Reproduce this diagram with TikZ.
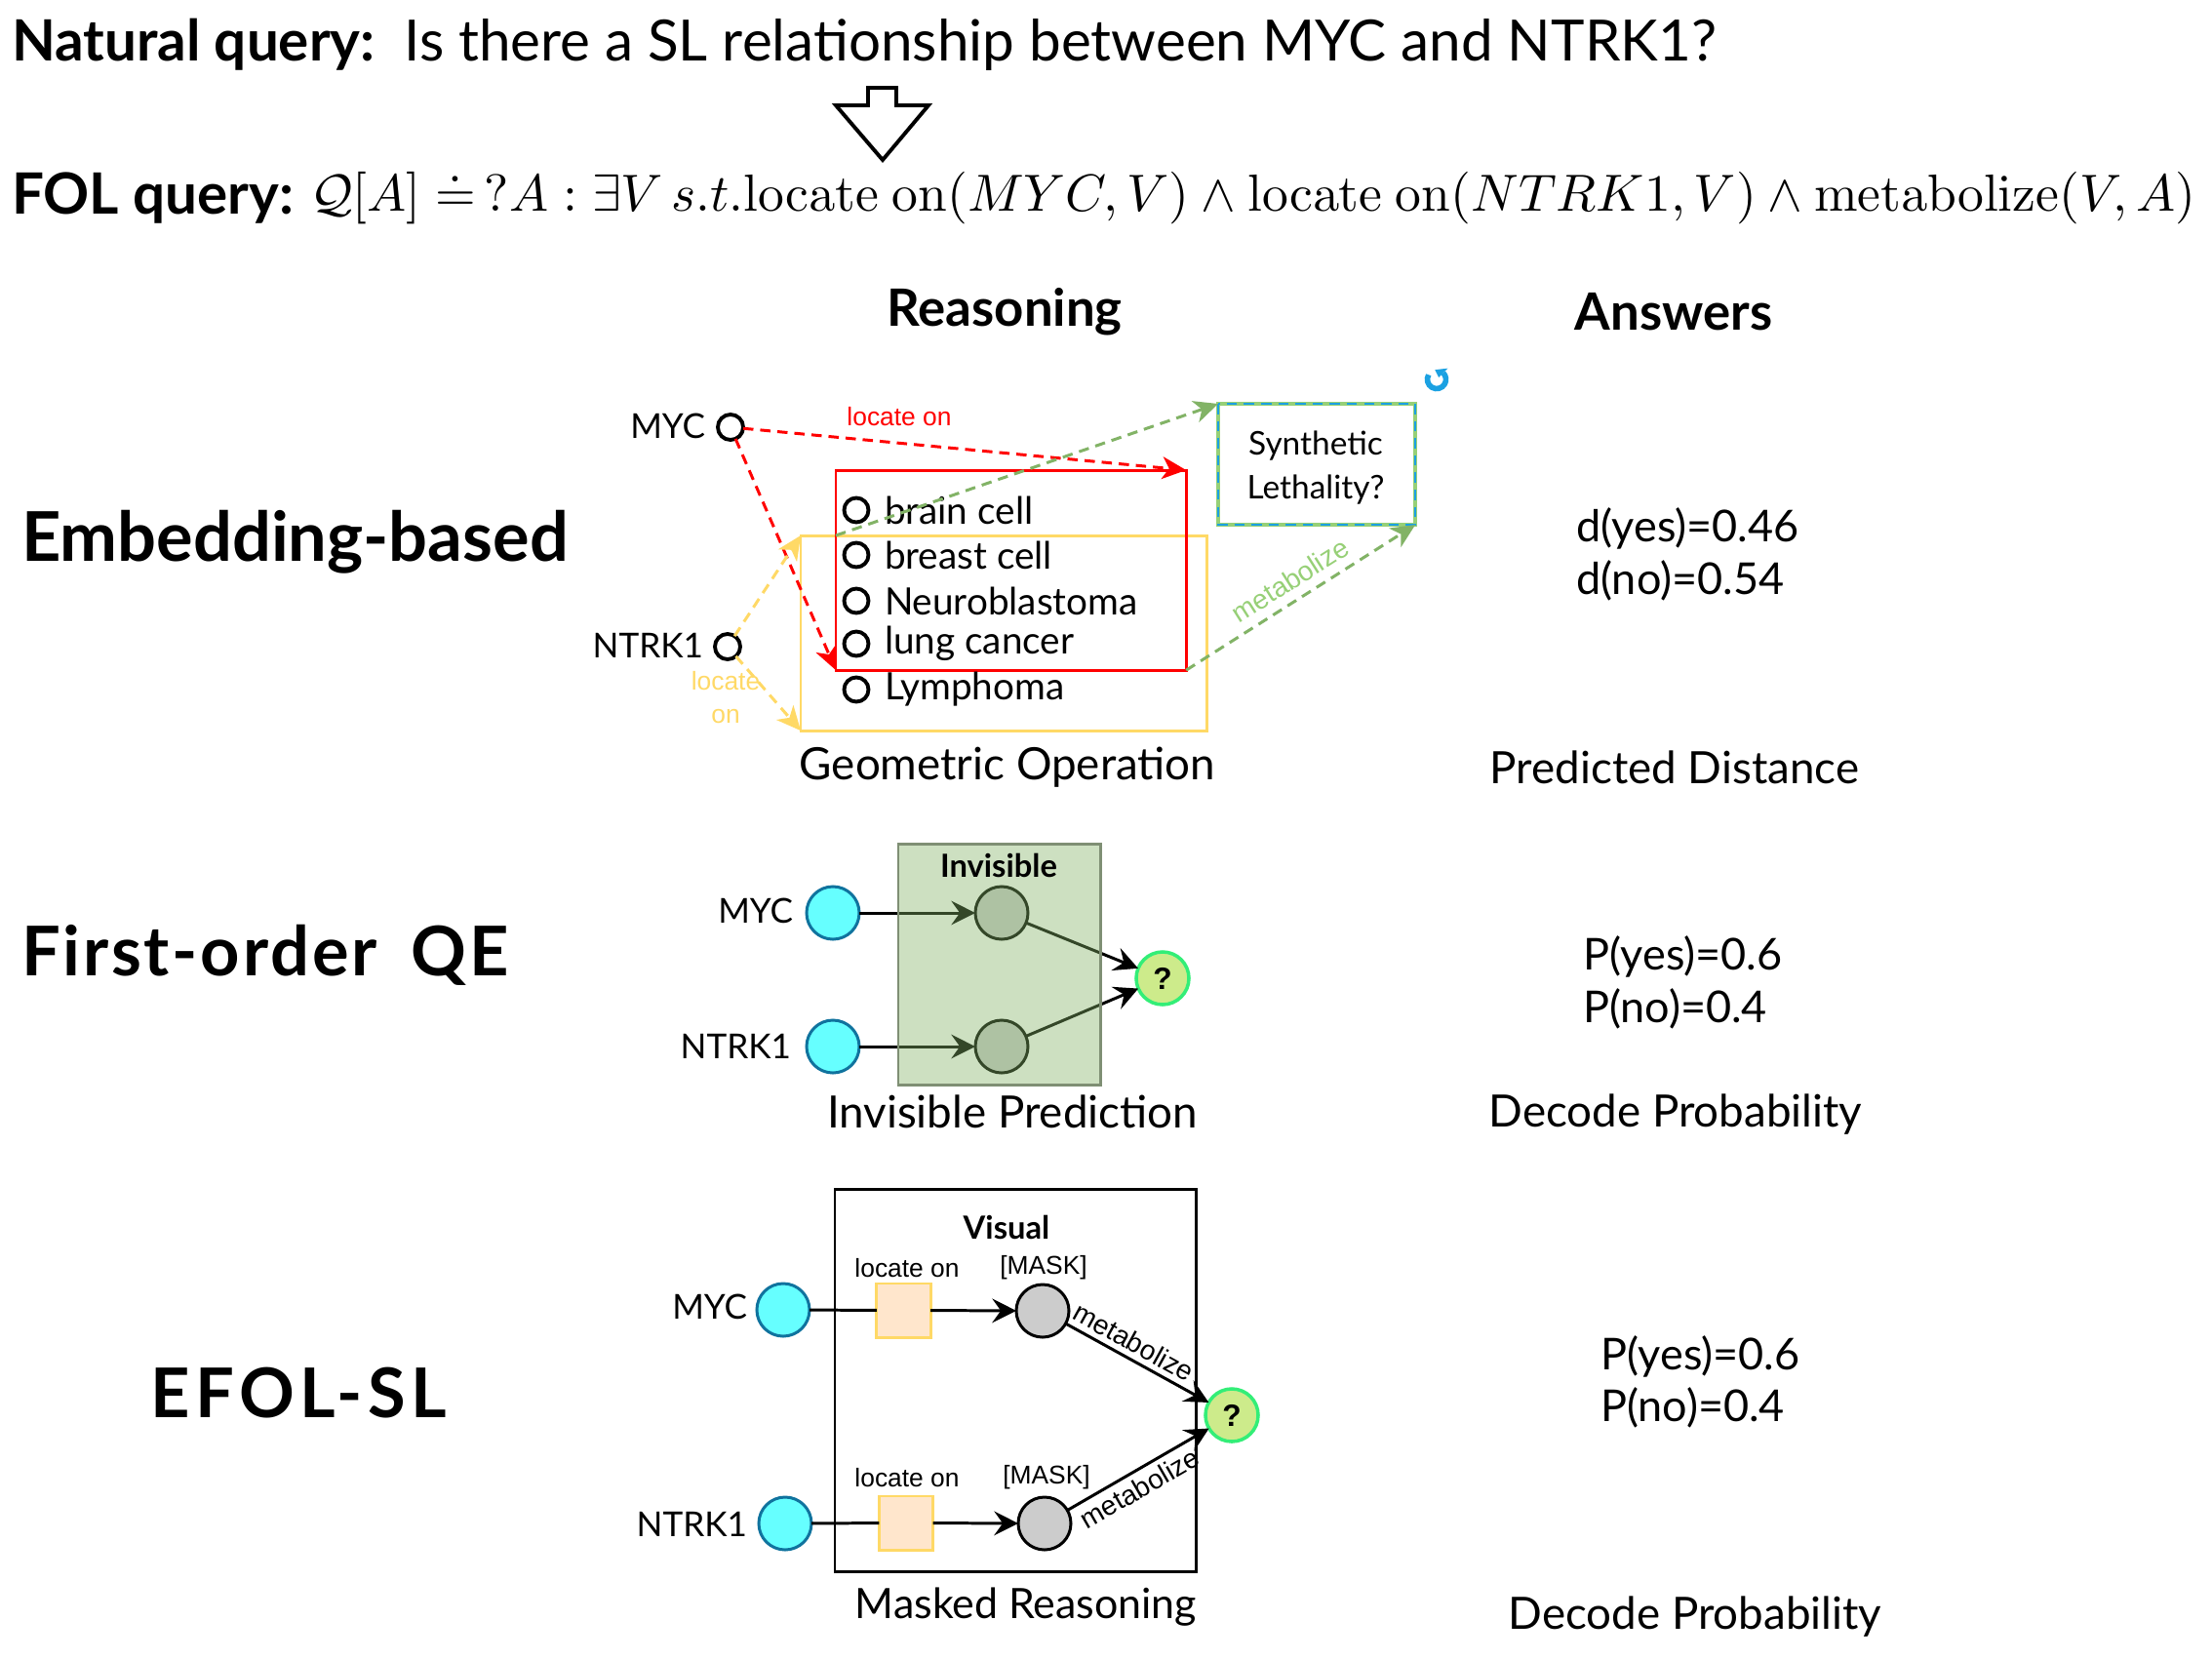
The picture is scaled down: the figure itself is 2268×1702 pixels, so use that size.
\documentclass[tikz,border=0pt]{standalone}
\usepackage[no-math]{fontspec}
\usepackage{amsmath,amssymb,graphicx}
\setmainfont{Lato}
\newfontfamily\arialf{Liberation Sans}
\usetikzlibrary{arrows.meta,calc}
\definecolor{cyanf}{HTML}{66FFFF}
\definecolor{cyand}{HTML}{10739E}
\definecolor{qfill}{HTML}{CDEB8B}
\definecolor{qdraw}{HTML}{33EE77}
\definecolor{gfill}{HTML}{82B366}
\definecolor{gbord}{HTML}{7F8F74}
\definecolor{ydraw}{HTML}{FFD966}
\definecolor{sqfill}{HTML}{FFE6CC}
\definecolor{ltgreen}{HTML}{97D077}
\definecolor{blued}{HTML}{1BA1E2}
\definecolor{grayf}{HTML}{CCCCCC}
\begin{document}
\begin{tikzpicture}[x=0.01cm,y=-0.01cm,
  every node/.style={inner sep=0pt, outer sep=0pt},
  titletxt/.style={font=\fontsize{16.6}{20}\selectfont, anchor=west},
  hdr/.style={font=\bfseries\fontsize{15}{18}\selectfont},
  sect/.style={font=\bfseries\fontsize{20}{24}\selectfont},
  capt/.style={font=\fontsize{13}{15}\selectfont},
  itemtxt/.style={font=\fontsize{11}{13}\selectfont, anchor=west},
  gene/.style={font=\fontsize{10}{12}\selectfont, anchor=east},
  ans/.style={font=\fontsize{12.8}{15}\selectfont, anchor=west},
  arl/.style={font=\arialf\fontsize{7.5}{9.7}\selectfont},
  boxtitle/.style={font=\bfseries\fontsize{9.3}{11}\selectfont},
  ring/.style={circle, draw=black, line width=1.1pt, minimum size=0.26cm},
  cyc/.style={circle, fill=cyanf, draw=cyand, line width=0.85pt, minimum size=0.54cm},
  gry/.style={circle, fill=grayf, draw=black, line width=0.85pt, minimum size=0.54cm},
  qn/.style={circle, fill=qfill, draw=qdraw, line width=1pt, minimum size=0.54cm, font=\arialf\bfseries\fontsize{9}{10}\selectfont},
  sq/.style={fill=sqfill, draw=ydraw, line width=0.85pt, minimum size=0.55cm},
  reddash/.style={draw=red, line width=0.85pt, dash pattern=on 3pt off 2pt, -{Stealth[length=7pt,width=6.5pt,inset=2pt]}},
  gdash/.style={draw=gfill, line width=0.85pt, dash pattern=on 3pt off 2pt, -{Stealth[length=7pt,width=6.5pt,inset=2pt]}},
  ydash/.style={draw=ydraw, line width=0.85pt, dash pattern=on 3pt off 2pt, -{Stealth[length=7pt,width=6.5pt,inset=2pt]}},
  arr/.style={draw=black, line width=0.85pt, -{Stealth[length=7pt,width=7pt,inset=2.5pt]}},
  plain/.style={draw=black, line width=0.85pt}
]
\fill[white] (0,0) rectangle (2268,1702);

% ---------- header ----------
\node[titletxt] (nq) at (12,46) {\textbf{Natural query:}\ \ Is there a SL relationship between MYC and NTRK1?};
\draw[line width=1.1pt, fill=white] (890,90) -- (919,90) -- (919,108) -- (952,108) -- (905,164) -- (857,108) -- (890,108) -- cycle;
\node[titletxt, font=\bfseries\fontsize{16.6}{20}\selectfont] (fl) at (12,203) {FOL query:};
\node[anchor=west] (fm) at (318,203) {\resizebox{19.32cm}{!}{$\mathcal{Q}[A]\doteq\,?A:\exists V\, s.t.\mathrm{locate\ on}(MYC,V)\wedge\mathrm{locate\ on}(NTRK1,V)\wedge\mathrm{metabolize}(V,A)$}};

\node[hdr] (reas) at (1030,320) {Reasoning};
\node[hdr] (answ) at (1716,320) {Answers};

% ---------- left labels ----------
\node[sect, anchor=west] (emb) at (22,556) {Embedding-based};
\node[sect, anchor=west] (foq) at (22,979) {\addfontfeatures{LetterSpace=4}First-order\enspace QE};
\node[sect] (efol) at (306,1428) {\addfontfeatures{LetterSpace=8}EFOL-SL};

% ---------- panel 1 ----------
\node[draw=ydraw, line width=0.85pt, minimum width=4.16cm, minimum height=2.0cm, anchor=north west] (yb) at (821,549) {};
\node[draw=red, line width=0.85pt, minimum width=3.59cm, minimum height=2.05cm, anchor=north west] (rb) at (857,482) {};
\node[gene] (myclab) at (723,437) {MYC};
\node[ring] (m1) at (749,438) {};
\node[gene] (ntlab) at (721,662) {NTRK1};
\node[ring] (n1) at (746,663) {};
\foreach \yy/\tt/\nn in {523/brain cell/a, 569/breast cell/b, 616/Neuroblastoma/c, 660/lung cancer/d, 707/Lymphoma/e}{
  \node[ring, minimum size=0.25cm] (c\nn) at (878,\yy) {};
  \node[itemtxt] (t\nn) at (907,\yy) {\tt};
}
\node[draw=ltgreen, line width=1.1pt, minimum width=2.02cm, minimum height=1.24cm, anchor=north west] (syn) at (1249,414) {};
\draw[blued, line width=0.6pt, dash pattern=on 3pt off 2pt] (syn.north west) rectangle (syn.south east);
\node[font=\fontsize{9.5}{12.8}\selectfont, align=center] (syntxt) at (1349,480) {Synthetic\\Lethality?};
% refresh icon
\coordinate (ico) at (1473,389);
\draw[blued, line width=1.6pt] ($(ico)+(150:0.095cm)$) arc[start angle=150, end angle=405, radius=0.095cm];
\fill[blued] ($(ico)+(45:0.03cm)$) -- ($(ico)+(45:0.16cm)$) -- ($(ico)+(100:0.1cm)$) -- cycle;

\draw[reddash] (m1) -- (rb.north east);
\draw[reddash] (m1) -- (rb.south west);
\node[arl, text=red] (loc1) at (922,427) {locate on};
\coordinate (gs) at (rb.west |- yb.north);
\draw[gdash] (gs) -- (syn.north west);
\draw[gdash] (rb.south east) -- node[sloped, above=3pt, arl, text=ltgreen, font=\arialf\fontsize{8}{9}\selectfont] (metab1) {metabolize} (syn.south east);
\draw[ydash] (n1) -- (yb.north west);
\draw[ydash] (n1) -- (yb.south west);
\node[arl, text=ydraw, align=center] (loc2) at (744,715) {locate\\on};
\node[capt] (geo) at (1033,787) {Geometric Operation};

% ---------- panel 2 ----------
\node[gene] (myc2) at (813,934) {MYC};
\node[cyc] (c2a) at (854,936) {};
\node[gene] (nt2) at (811,1073) {NTRK1};
\node[cyc] (c2b) at (854,1073) {};
\node[gry] (h2a) at (1027,936) {};
\node[gry] (h2b) at (1027,1073) {};
\node[qn] (q2) at (1192,1003) {?};
\draw[arr] (c2a) -- (h2a);
\draw[arr] (c2b) -- (h2b);
\draw[arr] (h2a) -- (q2);
\draw[arr] (h2b) -- (q2);
\node[fill=gfill, fill opacity=0.4, draw=gbord, draw opacity=1, line width=0.85pt, minimum width=2.07cm, minimum height=2.47cm, anchor=north west] (ib) at (921,865) {};
\node[boxtitle] (inv) at (1024,887) {Invisible};
\node[capt] (invp) at (1038,1140) {Invisible Prediction};

% ---------- panel 3 ----------
\node[draw=black, line width=0.85pt, minimum width=3.70cm, minimum height=3.92cm, anchor=north west] (vb) at (856,1219) {};
\node[boxtitle] (vis) at (1032,1258) {Visual};
\node[arl] (la) at (930,1300) {locate on};
\node[arl] (ma) at (1070,1300) {[MASK]};
\node[arl] (lb) at (930,1515) {locate on};
\node[arl] (mb) at (1073,1515) {[MASK]};
\node[gene] (myc3) at (766,1340) {MYC};
\node[cyc] (c3a) at (803,1343) {};
\node[gene] (nt3) at (766,1563) {NTRK1};
\node[cyc] (c3b) at (805,1562) {};
\node[sq] (s3a) at (926.5,1343.5) {};
\node[sq] (s3b) at (929,1561.5) {};
\node[gry] (g3a) at (1069,1344) {};
\node[gry] (g3b) at (1071,1562) {};
\node[qn] (q3) at (1263,1451) {?};
\draw[plain] (c3a) -- (s3a);
\draw[plain] (c3b) -- (s3b);
\draw[arr] (s3a) -- (g3a);
\draw[arr] (s3b) -- (g3b);
\draw[arr] (g3a) -- node[sloped, above=2pt, pos=0.42, arl, font=\arialf\fontsize{8}{9}\selectfont] (mt3a) {metabolize} (q3);
\draw[arr] (g3b) -- node[sloped, below=2pt, pos=0.45, arl, font=\arialf\fontsize{8}{9}\selectfont] (mt3b) {metabolize} (q3);
\node[capt, font=\fontsize{12.2}{15}\selectfont] (mr) at (1052,1648) {Masked Reasoning};

% ---------- answers ----------
\node[ans] (dy) at (1616,542) {d(yes)=0.46};
\node[ans] (dn) at (1616,595) {d(no)=0.54};
\node[capt] (pd) at (1717,787) {Predicted Distance};
\node[ans] (py1) at (1623,981) {P(yes)=0.6};
\node[ans] (pn1) at (1623,1034) {P(no)=0.4};
\node[capt] (dp1) at (1718,1143) {Decode Probability};
\node[ans] (py2) at (1641,1391) {P(yes)=0.6};
\node[ans] (pn2) at (1641,1443) {P(no)=0.4};
\node[capt] (dp2) at (1738,1658) {Decode Probability};
\end{tikzpicture}
\end{document}
